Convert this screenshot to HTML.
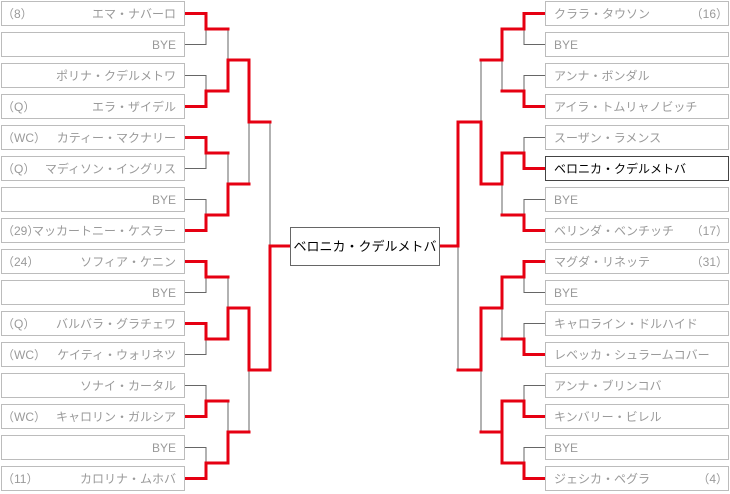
<!DOCTYPE html>
<html><head><meta charset="utf-8"><style>
html,body{margin:0;padding:0;background:#fff;}
svg{display:block}
text{font-family:"Liberation Sans","Noto Sans CJK JP",sans-serif;font-size:12px;fill:#9a9a9a}
.b{fill:#fff;stroke:#bcbcbc;stroke-width:1}
.g{fill:none;stroke:#666;stroke-width:1}
.r{fill:none;stroke:#e60012;stroke-width:3;stroke-linecap:square}
</style></head><body>
<svg width="730" height="494" viewBox="0 0 730 494" xmlns="http://www.w3.org/2000/svg">
<path class="g" d="M185 13.5H206V44.5H185M185 75.5H206V106.5H185M185 137.5H206V168.5H185M185 199.5H206V230.5H185M185 261.5H206V292.5H185M185 323.5H206V354.5H185M185 385.5H206V416.5H185M185 447.5H206V478.5H185
M206 29H228V91H206M206 153H228V215H206M206 277H228V339H206M206 401H228V463H206
M228 60H249V184H228M228 308H249V432H228
M249 122H270V370H249"/>
<path class="g" d="M545 13.5H524V44.5H545M545 75.5H524V106.5H545M545 137.5H524V168.5H545M545 199.5H524V230.5H545M545 261.5H524V292.5H545M545 323.5H524V354.5H545M545 385.5H524V416.5H545M545 447.5H524V478.5H545
M524 29H502V91H524M524 153H502V215H524M524 277H502V339H524M524 401H502V463H524
M502 60H481V184H502M502 308H481V432H502
M481 122H458V370H481"/>
<path class="r" d="M186 13.5H206V29M186 106.5H206V91M186 137.5H206V153M186 230.5H206V215M186 261.5H206V277M186 323.5H206V339M186 416.5H206V401M186 478.5H206V463
M206 29H228M206 91H228V60M206 153H228M206 215H228V184M206 277H228M206 339H228V308M206 401H228M206 463H228V432
M228 60H249V122M228 184H249M228 308H249V370M228 432H249
M249 122H270M249 370H270V246H289"/>
<path class="r" d="M544 13.5H524V29M544 106.5H524V91M544 168.5H524V153M544 230.5H524V215M544 261.5H524V277M544 354.5H524V339M544 416.5H524V401M544 478.5H524V463
M524 29H502V60M524 91H502M524 153H502V184M524 215H502M524 277H502V308M524 339H502M524 401H502V463H524
M502 60H481M502 184H481V122M502 308H481V370M502 432H481
M481 122H458V246H441M481 370H458"/>
<g>
<rect class="b" x="1.5" y="1.5" width="183" height="24"/><text x="2" y="18">（8）</text><text x="176" y="18" text-anchor="end">エマ・ナバーロ</text>
<rect class="b" x="1.5" y="32.5" width="183" height="24"/><text x="176" y="49" text-anchor="end">BYE</text>
<rect class="b" x="1.5" y="63.5" width="183" height="24"/><text x="176" y="80" text-anchor="end">ポリナ・クデルメトワ</text>
<rect class="b" x="1.5" y="94.5" width="183" height="24"/><text x="2" y="111">（Q）</text><text x="176" y="111" text-anchor="end">エラ・ザイデル</text>
<rect class="b" x="1.5" y="125.5" width="183" height="24"/><text x="2" y="142">（WC）</text><text x="176" y="142" text-anchor="end">カティー・マクナリー</text>
<rect class="b" x="1.5" y="156.5" width="183" height="24"/><text x="2" y="173">（Q）</text><text x="176" y="173" text-anchor="end">マディソン・イングリス</text>
<rect class="b" x="1.5" y="187.5" width="183" height="24"/><text x="176" y="204" text-anchor="end">BYE</text>
<rect class="b" x="1.5" y="218.5" width="183" height="24"/><text x="2" y="235">（29）</text><text x="176" y="235" text-anchor="end">マッカートニー・ケスラー</text>
<rect class="b" x="1.5" y="249.5" width="183" height="24"/><text x="2" y="266">（24）</text><text x="176" y="266" text-anchor="end">ソフィア・ケニン</text>
<rect class="b" x="1.5" y="280.5" width="183" height="24"/><text x="176" y="297" text-anchor="end">BYE</text>
<rect class="b" x="1.5" y="311.5" width="183" height="24"/><text x="2" y="328">（Q）</text><text x="176" y="328" text-anchor="end">バルバラ・グラチェワ</text>
<rect class="b" x="1.5" y="342.5" width="183" height="24"/><text x="2" y="359">（WC）</text><text x="176" y="359" text-anchor="end">ケイティ・ウォリネツ</text>
<rect class="b" x="1.5" y="373.5" width="183" height="24"/><text x="176" y="390" text-anchor="end">ソナイ・カータル</text>
<rect class="b" x="1.5" y="404.5" width="183" height="24"/><text x="2" y="421">（WC）</text><text x="176" y="421" text-anchor="end">キャロリン・ガルシア</text>
<rect class="b" x="1.5" y="435.5" width="183" height="24"/><text x="176" y="452" text-anchor="end">BYE</text>
<rect class="b" x="1.5" y="466.5" width="183" height="24"/><text x="2" y="483">（11）</text><text x="176" y="483" text-anchor="end">カロリナ・ムホバ</text>
</g>
<g>
<rect class="b" x="545.5" y="1.5" width="183" height="24"/><text x="554" y="18">クララ・タウソン</text><text x="728" y="18" text-anchor="end">（16）</text>
<rect class="b" x="545.5" y="32.5" width="183" height="24"/><text x="554" y="49">BYE</text>
<rect class="b" x="545.5" y="63.5" width="183" height="24"/><text x="554" y="80">アンナ・ボンダル</text>
<rect class="b" x="545.5" y="94.5" width="183" height="24"/><text x="554" y="111">アイラ・トムリャノビッチ</text>
<rect class="b" x="545.5" y="125.5" width="183" height="24"/><text x="554" y="142">スーザン・ラメンス</text>
<rect x="545.5" y="156.5" width="183" height="24" fill="#fff" stroke="#444"/><text x="554" y="173" style="fill:#000">ベロニカ・クデルメトバ</text>
<rect class="b" x="545.5" y="187.5" width="183" height="24"/><text x="554" y="204">BYE</text>
<rect class="b" x="545.5" y="218.5" width="183" height="24"/><text x="554" y="235">ベリンダ・ベンチッチ</text><text x="728" y="235" text-anchor="end">（17）</text>
<rect class="b" x="545.5" y="249.5" width="183" height="24"/><text x="554" y="266">マグダ・リネッテ</text><text x="728" y="266" text-anchor="end">（31）</text>
<rect class="b" x="545.5" y="280.5" width="183" height="24"/><text x="554" y="297">BYE</text>
<rect class="b" x="545.5" y="311.5" width="183" height="24"/><text x="554" y="328">キャロライン・ドルハイド</text>
<rect class="b" x="545.5" y="342.5" width="183" height="24"/><text x="554" y="359">レベッカ・シュラームコバー</text>
<rect class="b" x="545.5" y="373.5" width="183" height="24"/><text x="554" y="390">アンナ・ブリンコバ</text>
<rect class="b" x="545.5" y="404.5" width="183" height="24"/><text x="554" y="421">キンバリー・ビレル</text>
<rect class="b" x="545.5" y="435.5" width="183" height="24"/><text x="554" y="452">BYE</text>
<rect class="b" x="545.5" y="466.5" width="183" height="24"/><text x="554" y="483">ジェシカ・ペグラ</text><text x="728" y="483" text-anchor="end">（4）</text>
</g>
<rect x="290.5" y="227.5" width="149" height="38" fill="#fff" stroke="#666"/>
<text x="365" y="251" text-anchor="middle" style="fill:#000;font-size:13px">ベロニカ・クデルメトバ</text>
</svg>
</body></html>
